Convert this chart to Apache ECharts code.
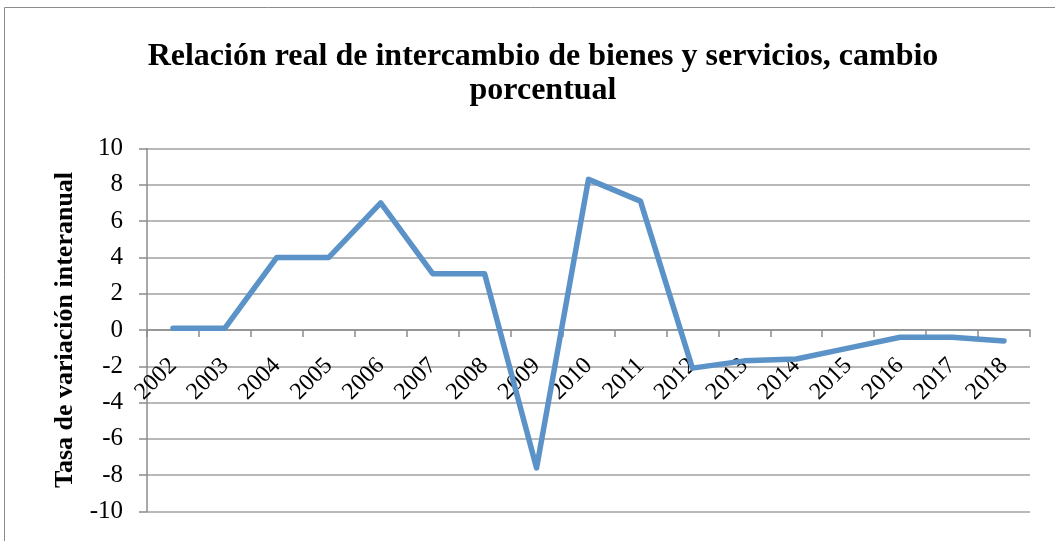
<!DOCTYPE html>
<html>
<head>
<meta charset="utf-8">
<script src="https://cdn.jsdelivr.net/npm/echarts@6/dist/echarts.min.js"></script>
<style>
  html, body { margin: 0; padding: 0; background: #fff; }
  #chart { width: 1055px; height: 541px; }
</style>
</head>
<body>
<div id="chart"></div>
<script>
// Años de la serie
const years = ['2002', '2003', '2004', '2005', '2006', '2007', '2008', '2009', '2010',
               '2011', '2012', '2013', '2014', '2015', '2016', '2017', '2018'];
// Variación interanual (%) de la relación real de intercambio
const tasa = [0.1, 0.1, 4.0, 4.0, 7.0, 3.1, 3.1, -7.6, 8.3,
              7.1, -2.1, -1.7, -1.6, -1.0, -0.4, -0.4, -0.6];
// Marcas del eje vertical
const yMin = -10, yMax = 10, yStep = 2;

const serif = "'Liberation Serif', 'Times New Roman', serif";
const chart = echarts.init(document.getElementById('chart'), null, { renderer: 'canvas' });

const gridTop = 148.5, gridBottom = 29.5, chartH = 541;
const plotH = chartH - gridTop - gridBottom;
// el eje de categorías se dibuja sobre la línea del cero, con sus etiquetas
const zeroOffset = -plotH * (0 - yMin) / (yMax - yMin);

chart.setOption({
  animation: false,
  backgroundColor: '#ffffff',
  title: {
    text: 'Relación real de intercambio de bienes y servicios, cambio\nporcentual',
    left: 538,
    top: 35,
    textAlign: 'center',
    textStyle: {
      fontFamily: serif,
      fontWeight: 'bold',
      fontSize: 32,
      lineHeight: 34,
      color: '#000'
    }
  },
  graphic: [{
    type: 'rect',
    shape: { x: 4.5, y: 7.5, width: 1100, height: 600 },
    style: { fill: 'none', stroke: '#8c8c8c', lineWidth: 1 },
    silent: true
  }],
  grid: { left: 147, right: 25, top: gridTop, bottom: gridBottom, outerBoundsMode: 'none', containLabel: false },
  xAxis: {
    type: 'category',
    data: years,
    boundaryGap: true,
    position: 'bottom',
    offset: zeroOffset,
    axisLine: { onZero: false, lineStyle: { color: '#8c8c8c', width: 1.5 } },
    axisTick: { show: true, interval: 0, length: 7, lineStyle: { color: '#8c8c8c', width: 1.5 } },
    axisLabel: {
      interval: 0,
      rotate: 45,
      margin: 32,
      fontFamily: serif,
      fontSize: 24,
      color: '#000'
    },
    splitLine: { show: false }
  },
  yAxis: {
    type: 'value',
    min: yMin,
    max: yMax,
    interval: yStep,
    name: 'Tasa de variación interanual',
    nameLocation: 'middle',
    nameGap: 66,
    nameTextStyle: {
      fontFamily: serif,
      fontWeight: 'bold',
      fontSize: 26,
      color: '#000'
    },
    axisLine: { show: true, lineStyle: { color: '#8c8c8c', width: 1.5 } },
    axisTick: { show: true, length: 8, lineStyle: { color: '#8c8c8c', width: 1.5 } },
    axisLabel: {
      margin: 24,
      fontFamily: serif,
      fontSize: 25,
      color: '#000'
    },
    splitLine: { show: true, lineStyle: { color: '#a0a0a0', width: 1.5 } }
  },
  series: [{
    type: 'line',
    data: tasa,
    symbol: 'none',
    lineStyle: { color: '#5b93c8', width: 5.5, join: 'round', cap: 'round' }
  }]
});
</script>
</body>
</html>
